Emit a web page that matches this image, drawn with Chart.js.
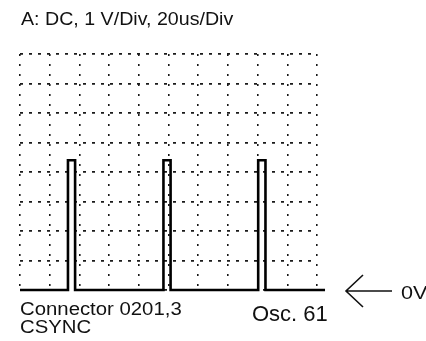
<!DOCTYPE html>
<html>
<head>
<meta charset="utf-8">
<style>
  html, body { margin: 0; padding: 0; background: #fff; }
  #wrap { width: 426px; height: 341px; position: relative; }
</style>
<script src="https://cdn.jsdelivr.net/npm/chart.js@4/dist/chart.umd.min.js"></script>
</head>
<body>
<div id="wrap"><canvas id="scope"></canvas></div>
<script>
// Scope settings: 20 us/div over 10 divisions, 1 V/div over 8 divisions
const timeDivs = [0, 20, 40, 60, 80, 100, 120, 140, 160, 180, 200];
const voltDivs = [0, 1, 2, 3, 4, 5, 6, 7, 8];

// CSYNC trace, step corners (time in us, level in V)
const traceTime = [0, 32.3, 32.3, 37.1, 37.1, 96.6, 96.6, 101.4, 101.4, 160.4, 160.4, 165.3, 165.3, 205.4];
const traceVolt = [0, 0, 4.4, 4.4, 0, 0, 4.4, 4.4, 0, 0, 4.4, 4.4, 0, 0];

const headerText = 'A: DC, 1 V/Div, 20us/Div';
const probeText = ['Connector 0201,3', 'CSYNC'];
const figureText = 'Osc. 61';
const groundText = '0V';

document.addEventListener('DOMContentLoaded', () => {
    const ctx = document.getElementById('scope').getContext('2d');

    // text drawn a bit wider than the font, like the printed labels
    const wideText = (c, text, x, y, size, stretch) => {
        c.save();
        c.font = `${size}px "Liberation Sans", Arial, sans-serif`;
        c.fillStyle = '#111';
        c.textBaseline = 'alphabetic';
        c.translate(x, y);
        c.scale(stretch, 1);
        c.fillText(text, 0, 0);
        c.restore();
    };

    const labelsPlugin = {
        id: 'scopeLabels',
        afterDraw: (chart) => {
            const c = chart.ctx;
            wideText(c, headerText, 21, 25, 18, 1.09);
            wideText(c, probeText[0], 20, 315, 18, 1.13);
            wideText(c, probeText[1], 20, 333, 18, 1.13);
            wideText(c, figureText, 252, 321, 22, 1.0);

            // ground marker arrow pointing at the 0 V level
            const y0 = chart.scales.y.getPixelForValue(0) + 1;
            c.save();
            c.strokeStyle = '#111';
            c.lineWidth = 1.6;
            c.beginPath();
            c.moveTo(392, y0);
            c.lineTo(346, y0);
            c.moveTo(363, y0 - 16);
            c.lineTo(346, y0);
            c.lineTo(363, y0 + 16);
            c.stroke();
            c.restore();
            wideText(c, groundText, 401, y0 + 8, 18, 1.2);
        }
    };

    new Chart(ctx, {
        type: 'line',
        data: {
            datasets: [{
                label: 'CSYNC',
                data: traceTime.map((t, i) => ({ x: t, y: traceVolt[i] })),
                borderColor: '#000',
                borderWidth: 2.6,
                pointRadius: 0,
                tension: 0,
                fill: false,
                clip: false
            }]
        },
        options: {
            responsive: true,
            maintainAspectRatio: false,
            animation: false,
            events: [],
            layout: {
                padding: { left: 20, top: 54, right: 109, bottom: 51 }
            },
            plugins: {
                legend: { display: false },
                tooltip: { enabled: false }
            },
            scales: {
                x: {
                    type: 'linear',
                    min: timeDivs[0],
                    max: timeDivs[timeDivs.length - 1],
                    afterBuildTicks: (axis) => { axis.ticks = timeDivs.map(v => ({ value: v })); },
                    ticks: { display: false },
                    grid: { color: '#1a1a1a', lineWidth: 1.6, drawTicks: false },
                    border: { display: false, dash: [2, 8] }
                },
                y: {
                    type: 'linear',
                    min: voltDivs[0],
                    max: voltDivs[voltDivs.length - 1],
                    afterBuildTicks: (axis) => { axis.ticks = voltDivs.map(v => ({ value: v })); },
                    ticks: { display: false },
                    grid: { color: '#1a1a1a', lineWidth: 1.8, drawTicks: false },
                    border: { display: false, dash: [3, 6] }
                }
            }
        },
        plugins: [labelsPlugin]
    });
});
</script>
</body>
</html>
